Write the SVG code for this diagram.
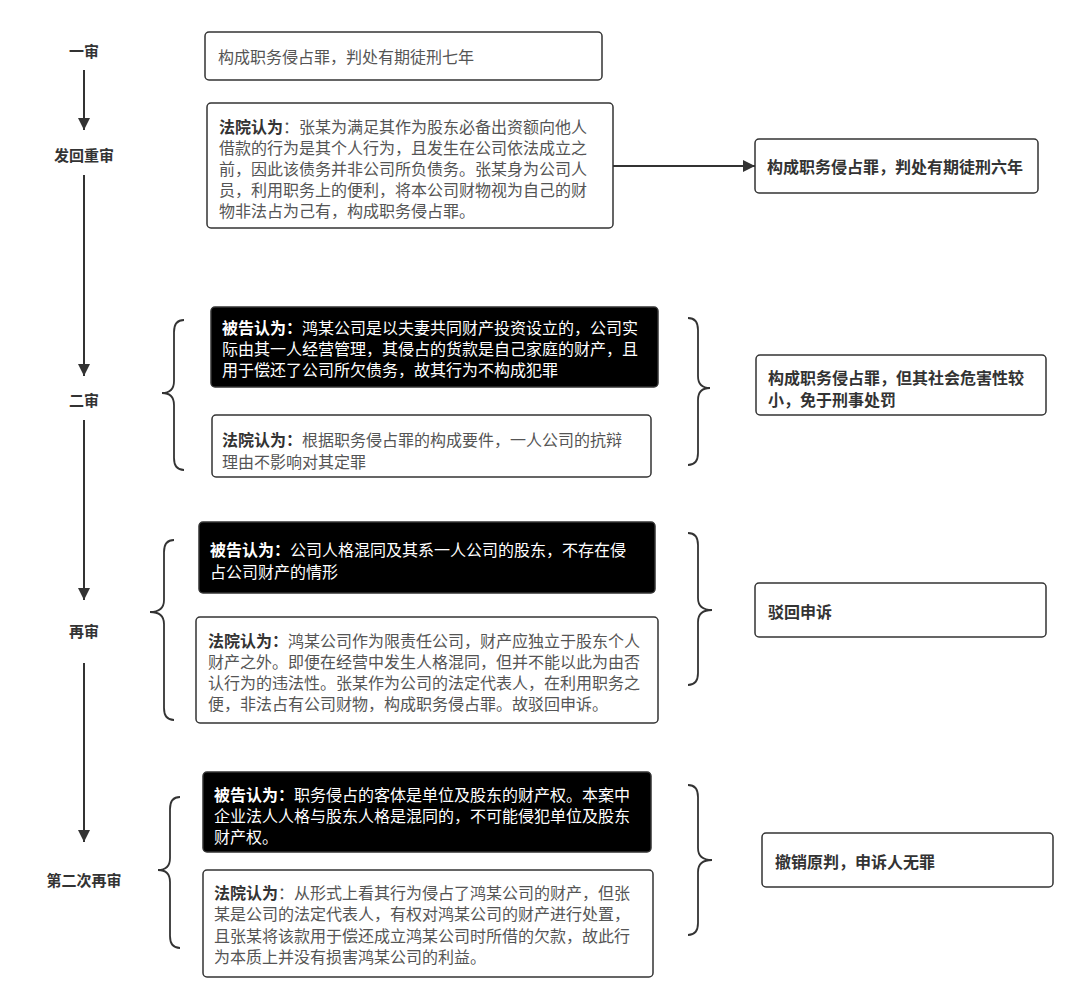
<svg xmlns="http://www.w3.org/2000/svg" width="1080" height="1005" viewBox="0 0 1080 1005">
<defs>
<style>
text{font-family:"Liberation Sans","Noto Sans CJK SC",sans-serif;dominant-baseline:central}
.stage{font-size:15px;font-weight:bold;fill:#333;text-anchor:middle}
.box{fill:#fff;stroke:#333;stroke-width:1.5}
.dark{fill:#000;stroke:#333;stroke-width:1.5}
.t{font-size:16px;fill:#555}
.w{font-size:16px;fill:#fff}
.r{font-size:16px;fill:#333;font-weight:bold}
.b{font-weight:bold}
.bb{font-weight:bold;fill:#333}
.edge{stroke:#333;stroke-width:2;fill:none}
.brace{stroke:#333;stroke-width:1.8;fill:none}
</style>
<marker id="ah" viewBox="0 0 10 10" refX="10" refY="5" markerWidth="6" markerHeight="6" markerUnits="strokeWidth" orient="auto">
<path d="M0,0 L10,5 L0,10 z" fill="#333"/>
</marker>
</defs>
<rect width="1080" height="1005" fill="#fff"/>

<g id="connectors">
<line class="edge" x1="84" y1="70" x2="84" y2="130" marker-end="url(#ah)"/>
<line class="edge" x1="84" y1="175" x2="84" y2="376" marker-end="url(#ah)"/>
<line class="edge" x1="84" y1="420" x2="84" y2="600" marker-end="url(#ah)"/>
<line class="edge" x1="84" y1="663" x2="84" y2="842" marker-end="url(#ah)"/>
<line class="edge" x1="613" y1="166" x2="755" y2="166" marker-end="url(#ah)"/>
</g>

<g id="braces">
<path class="brace" d="M184,320 Q174,320 174,332 L174,381 Q174,393 162,393 Q174,393 174,405 L174,458 Q174,470 184,470"/>
<path class="brace" d="M688,318 Q698,318 698,330 L698,376 Q698,388 710,388 Q698,388 698,400 L698,453 Q698,465 688,465"/>
<path class="brace" d="M174,540 Q164,540 164,552 L164,600 Q164,612 150,612 Q164,612 164,624 L164,708 Q164,720 174,720"/>
<path class="brace" d="M688,533 Q698,533 698,545 L698,598 Q698,610 712,610 Q698,610 698,622 L698,673 Q698,685 688,685"/>
<path class="brace" d="M180,797 Q170,797 170,809 L170,858 Q170,870 158,870 Q170,870 170,882 L170,936 Q170,948 180,948"/>
<path class="brace" d="M688,785 Q698,785 698,797 L698,848 Q698,860 712,860 Q698,860 698,872 L698,923 Q698,935 688,935"/>
</g>

<g id="stage-1"><text class="stage" x="84" y="51">一审</text></g>
<g id="stage-2"><text class="stage" x="84" y="155">发回重审</text></g>
<g id="stage-3"><text class="stage" x="84" y="400">二审</text></g>
<g id="stage-4"><text class="stage" x="84" y="631">再审</text></g>
<g id="stage-5"><text class="stage" x="84" y="880">第二次再审</text></g>

<g id="n1">
<rect class="box" x="205" y="32" width="397" height="48" rx="4"/>
<text class="t" x="218" y="57">构成职务侵占罪，判处有期徒刑七年</text>
</g>

<g id="n2">
<rect class="box" x="207" y="103" width="406" height="125" rx="4"/>
<text class="t bb" x="219" y="127">法院认为</text>
<text class="t" x="283" y="127">：张某为满足其作为股东必备出资额向他人</text>
<text class="t" x="219" y="148">借款的行为是其个人行为，且发生在公司依法成立之</text>
<text class="t" x="219" y="169">前，因此该债务并非公司所负债务。张某身为公司人</text>
<text class="t" x="219" y="190">员，利用职务上的便利，将本公司财物视为自己的财</text>
<text class="t" x="219" y="211">物非法占为己有，构成职务侵占罪。</text>
</g>

<g id="n3">
<rect class="box" x="755" y="139" width="283" height="54" rx="4"/>
<text class="r" x="767" y="167">构成职务侵占罪，判处有期徒刑六年</text>
</g>

<g id="n4">
<rect class="dark" x="211" y="307" width="447" height="80" rx="4"/>
<text class="w b" x="222" y="328">被告认为：</text>
<text class="w" x="302" y="328">鸿某公司是以夫妻共同财产投资设立的，公司实</text>
<text class="w" x="222" y="349">际由其一人经营管理，其侵占的货款是自己家庭的财产，且</text>
<text class="w" x="222" y="370">用于偿还了公司所欠债务，故其行为不构成犯罪</text>
</g>

<g id="n5">
<rect class="box" x="212" y="415" width="439" height="62" rx="4"/>
<text class="t bb" x="222" y="440">法院认为：</text>
<text class="t" x="302" y="440">根据职务侵占罪的构成要件，一人公司的抗辩</text>
<text class="t" x="222" y="462">理由不影响对其定罪</text>
</g>

<g id="n6">
<rect class="box" x="756" y="355" width="290" height="60" rx="4"/>
<text class="r" x="768" y="378">构成职务侵占罪，但其社会危害性较</text>
<text class="r" x="768" y="400">小，免于刑事处罚</text>
</g>

<g id="n7">
<rect class="dark" x="199" y="522" width="456" height="71" rx="4"/>
<text class="w b" x="210" y="550">被告认为：</text>
<text class="w" x="290" y="550">公司人格混同及其系一人公司的股东，不存在侵</text>
<text class="w" x="210" y="572">占公司财产的情形</text>
</g>

<g id="n8">
<rect class="box" x="196" y="617" width="462" height="106" rx="4"/>
<text class="t bb" x="208" y="641">法院认为：</text>
<text class="t" x="288" y="641">鸿某公司作为限责任公司，财产应独立于股东个人</text>
<text class="t" x="208" y="662">财产之外。即便在经营中发生人格混同，但并不能以此为由否</text>
<text class="t" x="208" y="683">认行为的违法性。张某作为公司的法定代表人，在利用职务之</text>
<text class="t" x="208" y="704">便，非法占有公司财物，构成职务侵占罪。故驳回申诉。</text>
</g>

<g id="n9">
<rect class="box" x="755" y="583" width="291" height="54" rx="4"/>
<text class="r" x="768" y="612">驳回申诉</text>
</g>

<g id="n10">
<rect class="dark" x="203" y="772" width="448" height="80" rx="4"/>
<text class="w b" x="214" y="795">被告认为：</text>
<text class="w" x="294" y="795">职务侵占的客体是单位及股东的财产权。本案中</text>
<text class="w" x="214" y="816">企业法人人格与股东人格是混同的，不可能侵犯单位及股东</text>
<text class="w" x="214" y="837">财产权。</text>
</g>

<g id="n11">
<rect class="box" x="203" y="870" width="450" height="107" rx="4"/>
<text class="t bb" x="214" y="893">法院认为</text>
<text class="t" x="278" y="893">：从形式上看其行为侵占了鸿某公司的财产，但张</text>
<text class="t" x="214" y="914">某是公司的法定代表人，有权对鸿某公司的财产进行处置，</text>
<text class="t" x="214" y="936">且张某将该款用于偿还成立鸿某公司时所借的欠款，故此行</text>
<text class="t" x="214" y="957">为本质上并没有损害鸿某公司的利益。</text>
</g>

<g id="n12">
<rect class="box" x="762" y="833" width="291" height="54" rx="4"/>
<text class="r" x="775" y="862">撤销原判，申诉人无罪</text>
</g>
</svg>
